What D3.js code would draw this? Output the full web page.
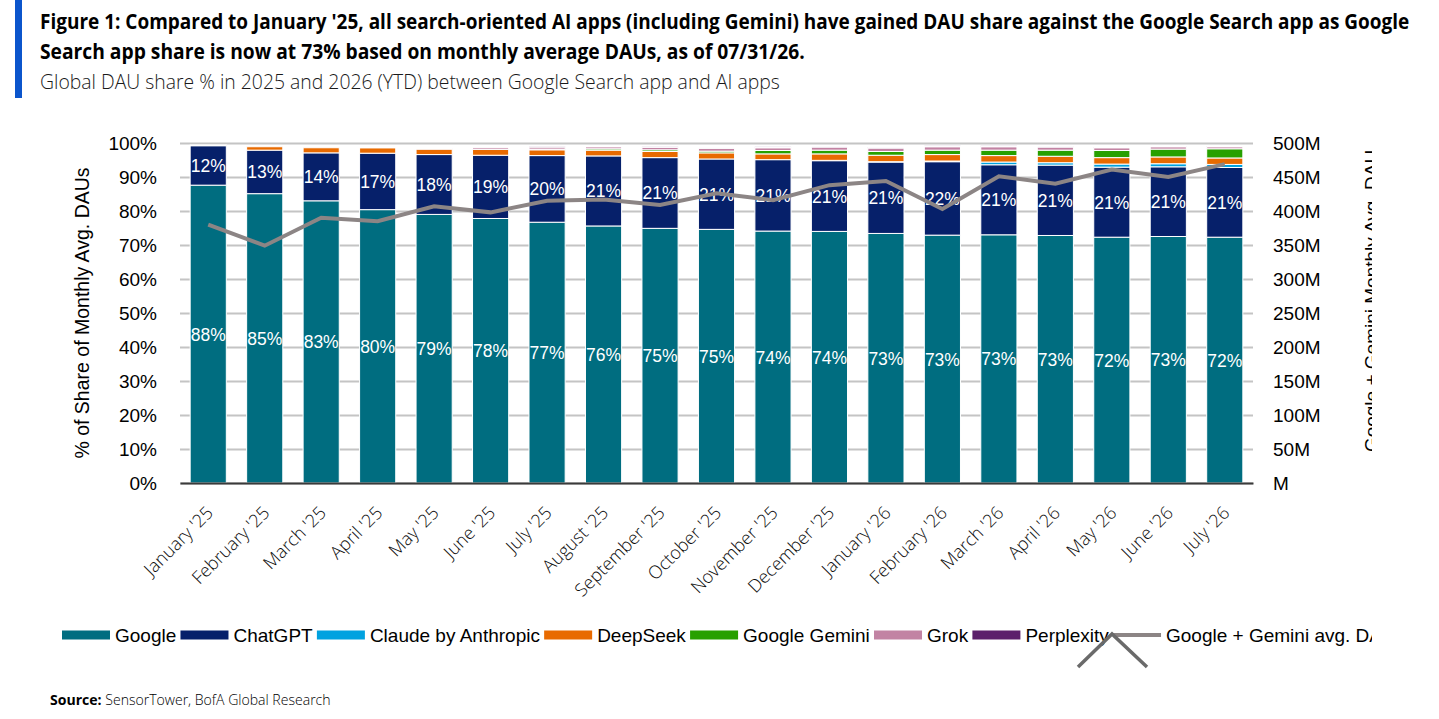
<!DOCTYPE html>
<html>
<head>
<meta charset="utf-8">
<title>Global DAU share</title>
<script src="https://d3js.org/d3.v7.min.js"></script>
<style>
  body { margin: 0; background: #fff; }
  svg { display: block; }
</style>
</head>
<body>
<script>
// months on the x axis
var months = ["January '25", "February '25", "March '25", "April '25", "May '25", "June '25",
  "July '25", "August '25", "September '25", "October '25", "November '25", "December '25",
  "January '26", "February '26", "March '26", "April '26", "May '26", "June '26", "July '26"];

// share of monthly avg. DAUs, %
var google     = [87.6, 85.1, 83.0, 80.4, 79.0, 77.8, 76.7, 75.6, 74.9, 74.6, 74.1, 74.0, 73.4, 72.9, 73.0, 72.8, 72.3, 72.5, 72.3];
var chatgpt    = [11.6, 12.8, 14.1, 16.6, 17.6, 18.6, 19.6, 20.6, 20.8, 20.7, 21.0, 20.8, 21.0, 21.6, 20.6, 20.7, 20.6, 20.5, 20.5];
var claude     = [0, 0, 0, 0, 0, 0, 0, 0, 0, 0, 0, 0.1, 0.1, 0.2, 0.8, 0.7, 0.9, 0.9, 0.9];
var deepseek   = [0.2, 1.0, 1.5, 1.6, 1.6, 1.7, 1.7, 1.7, 1.8, 1.8, 1.7, 1.9, 1.9, 1.9, 1.9, 1.9, 1.9, 2.0, 1.9];
var gemini     = [0, 0, 0, 0, 0, 0.1, 0.2, 0.4, 0.5, 0.5, 1.0, 1.1, 1.1, 1.3, 1.6, 1.8, 2.1, 2.3, 2.7];
var grok       = [0, 0, 0, 0.1, 0.2, 0.5, 0.6, 0.6, 0.7, 0.8, 0.8, 0.9, 1.0, 1.0, 1.0, 0.9, 0.8, 0.7, 0.6];
var perplexity = [0, 0, 0, 0, 0, 0, 0.1, 0.2, 0.2, 0.3, 0.3, 0.3, 0.3, 0.3, 0.3, 0.3, 0.2, 0.2, 0.2];

// Google + Gemini monthly avg. DAU, millions
var googleGeminiDau = [380, 349, 390, 385, 407, 398, 415, 417, 409, 426, 416, 438, 444, 403, 451, 440, 461, 450, 469];

var leftTicks = [0, 10, 20, 30, 40, 50, 60, 70, 80, 90, 100];
var rightTicks = [0, 50, 100, 150, 200, 250, 300, 350, 400, 450, 500];
var rightTickLabels = ["M", "50M", "100M", "150M", "200M", "250M", "300M", "350M", "400M", "450M", "500M"];

var seriesNames = ["Google", "ChatGPT", "Claude by Anthropic", "DeepSeek", "Google Gemini", "Grok", "Perplexity"];
var seriesColors = ["#006d80", "#06206a", "#00a2e0", "#e86a00", "#27a000", "#c283a3", "#5c1f6b"];
var lineName = "Google + Gemini avg. DAU";
var lineColor = "#8c8585";

var W = 1439, H = 719;
var plot = { left: 180, right: 1253, top: 143, bottom: 483 };
var sans = "'Liberation Sans', Arial, sans-serif";
var open = "'Open Sans', sans-serif";

var svg = d3.select("body").append("svg")
  .attr("width", W)
  .attr("height", H);

// squeeze a text horizontally to a given width (the original uses a condensed face)
function fitWidth(sel, x, width) {
  var natural = sel.node().getComputedTextLength();
  sel.attr("x", 0).attr("transform", "translate(" + x + ",0) scale(" + (width / natural) + ",1)");
}

// header
svg.append("rect").attr("x", 15).attr("y", 0).attr("width", 7).attr("height", 98).attr("fill", "#0b55cc");
var t1 = svg.append("text")
  .attr("y", 29)
  .attr("font-family", open).attr("font-weight", 700).attr("font-size", 20.5).attr("fill", "#000")
  .text("Figure 1: Compared to January '25, all search-oriented AI apps (including Gemini) have gained DAU share against the Google Search app as Google");
fitWidth(t1, 40, 1370);
var t2 = svg.append("text")
  .attr("y", 59)
  .attr("font-family", open).attr("font-weight", 700).attr("font-size", 20.5).attr("fill", "#000")
  .text("Search app share is now at 73% based on monthly average DAUs, as of 07/31/26.");
fitWidth(t2, 40, 765);
var t3 = svg.append("text")
  .attr("y", 89)
  .attr("font-family", open).attr("font-weight", 300).attr("font-size", 19.5).attr("fill", "#1a1a1a")
  .text("Global DAU share % in 2025 and 2026 (YTD) between Google Search app and AI apps");
fitWidth(t3, 40, 740);

// scales
var x = d3.scaleBand().domain(months).range([plot.left, plot.right]).paddingInner(0.36).paddingOuter(0.18);
var y = d3.scaleLinear().domain([0, 100]).range([plot.bottom, plot.top]);
var yR = d3.scaleLinear().domain([0, 500]).range([plot.bottom, plot.top]);

// gridlines + left labels
var gLeft = svg.append("g")
  .attr("transform", "translate(" + plot.left + ",0)")
  .call(d3.axisLeft(y).tickValues(leftTicks).tickSize(-(plot.right - plot.left)).tickPadding(23)
    .tickFormat(function(d) { return d + "%"; }));
gLeft.select(".domain").remove();
gLeft.selectAll(".tick line").attr("stroke", "#c4c4c4").attr("stroke-width", 2);
gLeft.selectAll(".tick text").attr("font-family", sans).attr("font-size", 19).attr("fill", "#000");

var gRight = svg.append("g")
  .attr("transform", "translate(" + plot.right + ",0)")
  .call(d3.axisRight(yR).tickValues(rightTicks).tickSize(0).tickPadding(20)
    .tickFormat(function(d, i) { return rightTickLabels[i]; }));
gRight.select(".domain").remove();
gRight.selectAll(".tick text").attr("font-family", sans).attr("font-size", 19).attr("fill", "#000");

// stacked bars
var rows = months.map(function(m, i) {
  return { month: m, s0: google[i], s1: chatgpt[i], s2: claude[i], s3: deepseek[i], s4: gemini[i], s5: grok[i], s6: perplexity[i] };
});
var keys = ["s0", "s1", "s2", "s3", "s4", "s5", "s6"];
var stacked = d3.stack().keys(keys)(rows);

svg.append("g").selectAll("g")
  .data(stacked)
  .join("g")
  .attr("fill", function(d, i) { return seriesColors[i]; })
  .selectAll("rect")
  .data(function(d) { return d; })
  .join("rect")
  .attr("x", function(d) { return x(d.data.month); })
  .attr("width", x.bandwidth())
  .attr("y", function(d) { return y(d[1]); })
  .attr("height", function(d) { return Math.max(0, y(d[0]) - y(d[1])); })
  .attr("stroke", "#ffffff")
  .attr("stroke-width", function(d) { return (d[1] - d[0]) > 0 ? 1 : 0; });

// x axis
var gX = svg.append("g")
  .attr("transform", "translate(0," + plot.bottom + ")")
  .call(d3.axisBottom(x).tickSize(0).tickSizeOuter(0).tickPadding(0));
gX.select(".domain").attr("stroke", "#3a3a3a").attr("stroke-width", 2);
gX.selectAll(".tick text")
  .attr("font-family", open).attr("font-weight", 300).attr("font-size", 18).attr("fill", "#0d0d0d")
  .attr("text-anchor", "end")
  .attr("dy", null)
  .attr("y", 0)
  .attr("transform", "translate(6,31) rotate(-45)");

// value labels on Google and ChatGPT segments
[stacked[0], stacked[1]].forEach(function(layer) {
  svg.append("g").selectAll("text")
    .data(layer)
    .join("text")
    .attr("x", function(d) { return x(d.data.month) + x.bandwidth() / 2; })
    .attr("y", function(d) { return (y(d[0]) + y(d[1])) / 2 + 6.5; })
    .attr("text-anchor", "middle")
    .attr("font-family", sans).attr("font-size", 17.5).attr("fill", "#fff")
    .text(function(d) { return Math.round(d[1] - d[0]) + "%"; });
});

// Google + Gemini DAU line
var line = d3.line()
  .x(function(d, i) { return x(months[i]) + x.bandwidth() / 2; })
  .y(function(d) { return yR(d); });
svg.append("path")
  .datum(googleGeminiDau)
  .attr("d", line)
  .attr("fill", "none")
  .attr("stroke", lineColor)
  .attr("stroke-width", 4);

// clipped area: right axis title and legend run off the right edge
svg.append("clipPath").attr("id", "cut")
  .append("rect").attr("x", 0).attr("y", 0).attr("width", 1372).attr("height", H);

svg.append("text")
  .attr("transform", "translate(89,313) rotate(-90)")
  .attr("text-anchor", "middle")
  .attr("font-family", sans).attr("font-size", 19.5).attr("fill", "#000")
  .text("% of Share of Monthly Avg. DAUs");

svg.append("g").attr("clip-path", "url(#cut)")
  .append("text")
  .attr("transform", "translate(1378,301) rotate(-90)")
  .attr("text-anchor", "middle")
  .attr("font-family", sans).attr("font-size", 19).attr("fill", "#000")
  .text("Google + Gemini Monthly Avg. DAU");

// legend
var legend = svg.append("g").attr("clip-path", "url(#cut)");
var legendItems = seriesNames.map(function(n, i) { return { name: n, color: seriesColors[i], line: false }; });
legendItems.push({ name: lineName, color: lineColor, line: true });
var lx = 62, ly = 635;
legendItems.forEach(function(it) {
  if (it.line) {
    legend.append("line").attr("x1", lx).attr("x2", lx + 48).attr("y1", ly).attr("y2", ly)
      .attr("stroke", it.color).attr("stroke-width", 4);
  } else {
    legend.append("rect").attr("x", lx).attr("y", ly - 4.5).attr("width", 48).attr("height", 9).attr("fill", it.color);
  }
  var t = legend.append("text")
    .attr("x", lx + 53).attr("y", ly + 7)
    .attr("font-family", sans).attr("font-size", 19).attr("fill", "#000")
    .text(it.name);
  lx += 53 + t.node().getComputedTextLength() + 4.2;
});

// overlay chevron seen on the source image
svg.append("path")
  .attr("d", "M1078,667L1112,634L1147,667")
  .attr("fill", "none").attr("stroke", "#6a6a6a").attr("stroke-width", 3.5);

// source line
var src = svg.append("text")
  .attr("y", 705)
  .attr("font-family", open).attr("font-size", 14.5).attr("fill", "#000");
src.append("tspan").attr("font-weight", 700).text("Source: ");
src.append("tspan").attr("font-weight", 300).text("SensorTower, BofA Global Research");
fitWidth(src, 50, 281);
</script>
</body>
</html>
